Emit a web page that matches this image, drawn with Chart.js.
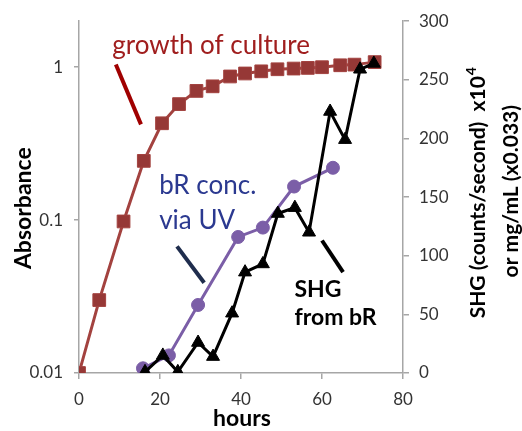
<!DOCTYPE html>
<html>
<head>
<meta charset="utf-8">
<script src="https://cdn.jsdelivr.net/npm/chart.js@4.4.1/dist/chart.umd.min.js"></script>
<style>
  html, body { margin: 0; padding: 0; background: #fff; }
  #wrap { width: 522px; height: 431px; }
</style>
</head>
<body>
<div id="wrap"><canvas id="chart" width="522" height="431"></canvas></div>
<script>
// GROWTH OF CULTURE (absorbance, log axis)
const growthHours = [0, 5, 11, 16, 20.5, 24.7, 29, 33, 37.3, 41, 45, 49, 53, 56.5, 60, 64.5, 68, 73];
const growthAbs = [0.01, 0.03, 0.098, 0.244, 0.43, 0.574, 0.70, 0.75, 0.87, 0.91, 0.94, 0.97, 0.98, 0.99, 1.0, 1.03, 1.04, 1.08];

// bR CONCENTRATION VIA UV (right axis)
const uvHours = [15.8, 22.2, 29.4, 39.3, 45.4, 53.1, 62.7];
const uvValues = [4, 15, 58, 116, 124, 159, 175];

// SHG FROM bR (right axis)
const shgHours = [16.3, 20.7, 24.4, 29.4, 33.1, 37.8, 41, 45.4, 49.1, 53.3, 56.8, 62, 65.7, 69.4, 72.8];
const shgValues = [1, 15, 1, 26, 14, 51, 86, 93, 136, 141, 120, 223, 199, 259, 264];

// AXIS TICKS
const xTicks = [0, 20, 40, 60, 80];
const absTicks = [0.01, 0.1, 1];
const rightTicks = [0, 50, 100, 150, 200, 250, 300];

const axisGray = "#A6A6A6";
const tickFont = { family: "Lato", size: 17 };

function pairs(xs, ys) {
    return xs.map((x, i) => ({ x: x, y: ys[i] }));
}

// ANNOTATIONS (placed in hours / right-axis units)
const pointers = [
    { from: [9.1, 263], to: [15.3, 212], color: "#A00000" },
    { from: [24.2, 108], to: [30.9, 77], color: "#1F2D4D" },
    { from: [60, 113], to: [65.2, 86], color: "#000000" }
];

const notes = [
    { text: "growth of culture", at: [8.2, 272], color: "#A01E1E", font: "26px Lato" },
    { text: "bR conc.", at: [19.8, 153], color: "#2B3990", font: "26px Lato" },
    { text: "via UV", at: [19.8, 123], color: "#2B3990", font: "26px Lato" },
    { text: "SHG", at: [53.2, 65], color: "#000000", font: "bold 23px Lato" },
    { text: "from bR", at: [53.2, 41], color: "#000000", font: "bold 23px Lato" }
];

const annotationPlugin = {
    id: "annotations",
    afterDraw(chart) {
        const ctx = chart.ctx;
        const xs = chart.scales.x;
        const ys = chart.scales.y1;
        const area = chart.chartArea;

        ctx.save();

        pointers.forEach((p) => {
            ctx.beginPath();
            ctx.moveTo(xs.getPixelForValue(p.from[0]), ys.getPixelForValue(p.from[1]));
            ctx.lineTo(xs.getPixelForValue(p.to[0]), ys.getPixelForValue(p.to[1]));
            ctx.lineWidth = 4;
            ctx.strokeStyle = p.color;
            ctx.stroke();
        });

        ctx.textBaseline = "alphabetic";
        ctx.textAlign = "left";
        notes.forEach((n) => {
            ctx.font = n.font;
            ctx.fillStyle = n.color;
            ctx.fillText(n.text, xs.getPixelForValue(n.at[0]), ys.getPixelForValue(n.at[1]));
        });

        // AXIS TITLES
        ctx.fillStyle = "#000";
        ctx.font = "bold 23px Lato";
        ctx.textAlign = "center";
        ctx.textBaseline = "middle";

        ctx.fillText("hours", (area.left + area.right) / 2 + 1, area.bottom + 46);

        ctx.save();
        ctx.translate(area.left - 55, area.top + 187);
        ctx.rotate(-Math.PI / 2);
        ctx.fillText("Absorbance", 0, 0);
        ctx.restore();

        // right title, two lines, with superscript 4
        const line1 = "SHG (counts/second)  x10";
        const sup = "4";
        ctx.font = "bold 21px Lato";
        const w1 = ctx.measureText(line1).width;
        ctx.font = "bold 14px Lato";
        const ws = ctx.measureText(sup).width;

        ctx.save();
        ctx.translate(area.right + 75, area.top + 172);
        ctx.rotate(-Math.PI / 2);
        ctx.textAlign = "left";
        ctx.font = "bold 21px Lato";
        const start = -(w1 + ws) / 2;
        ctx.fillText(line1, start, 0);
        ctx.font = "bold 14px Lato";
        ctx.fillText(sup, start + w1 + 1, -7);
        ctx.restore();

        ctx.save();
        ctx.translate(area.right + 108, area.top + 170);
        ctx.rotate(-Math.PI / 2);
        ctx.font = "bold 21px Lato";
        ctx.fillText("or mg/mL (x0.033)", 0, 0);
        ctx.restore();

        ctx.restore();
    }
};

const chart = new Chart(document.getElementById("chart"), {
    type: "line",
    data: {
        datasets: [
            {
                label: "SHG from bR",
                data: pairs(shgHours, shgValues),
                yAxisID: "y1",
                borderColor: "#000000",
                backgroundColor: "#000000",
                borderWidth: 3,
                pointStyle: "triangle",
                pointRadius: 7.5,
                pointBorderWidth: 1,
                tension: 0
            },
            {
                label: "bR conc. via UV",
                data: pairs(uvHours, uvValues),
                yAxisID: "y1",
                borderColor: "#7B5EA7",
                backgroundColor: "#7B5EA7",
                borderWidth: 3,
                pointStyle: "circle",
                pointRadius: 6.5,
                pointBorderWidth: 1,
                tension: 0
            },
            {
                label: "growth of culture",
                data: pairs(growthHours, growthAbs),
                yAxisID: "y",
                borderColor: "#A3423F",
                backgroundColor: "#963836",
                borderWidth: 3,
                pointStyle: "rect",
                pointRadius: 9,
                pointBorderWidth: 1,
                tension: 0
            }
        ]
    },
    options: {
        responsive: false,
        animation: false,
        devicePixelRatio: 1,
        layout: {
            padding: { top: 20 }
        },
        plugins: {
            legend: { display: false },
            tooltip: { enabled: false }
        },
        scales: {
            x: {
                type: "linear",
                min: 0,
                max: 80,
                afterBuildTicks(scale) {
                    scale.ticks = xTicks.map((v) => ({ value: v }));
                },
                afterFit(scale) {
                    scale.height = 58;
                },
                ticks: {
                    color: "#333",
                    font: tickFont,
                    padding: 10,
                    maxRotation: 0
                },
                grid: {
                    drawOnChartArea: false,
                    color: axisGray,
                    tickLength: 6,
                    lineWidth: 1.5
                },
                border: { color: axisGray, width: 1.5 }
            },
            y: {
                type: "logarithmic",
                position: "left",
                min: 0.01,
                max: 2,
                afterBuildTicks(scale) {
                    scale.ticks = absTicks.map((v) => ({ value: v }));
                },
                afterFit(scale) {
                    scale.width = 79;
                },
                ticks: {
                    color: "#333",
                    font: tickFont,
                    padding: 11,
                    callback: (v) => String(v)
                },
                grid: {
                    drawOnChartArea: false,
                    color: axisGray,
                    tickLength: 5,
                    lineWidth: 1.5
                },
                border: { color: axisGray, width: 1.5 }
            },
            y1: {
                type: "linear",
                position: "right",
                min: 0,
                max: 300,
                afterBuildTicks(scale) {
                    scale.ticks = rightTicks.map((v) => ({ value: v }));
                },
                afterFit(scale) {
                    scale.width = 119;
                },
                ticks: {
                    color: "#333",
                    font: tickFont,
                    padding: 10
                },
                grid: {
                    drawOnChartArea: false,
                    color: axisGray,
                    tickLength: 6,
                    lineWidth: 1.5
                },
                border: { color: axisGray, width: 1.5 }
            }
        }
    },
    plugins: [annotationPlugin]
});
</script>
</body>
</html>
